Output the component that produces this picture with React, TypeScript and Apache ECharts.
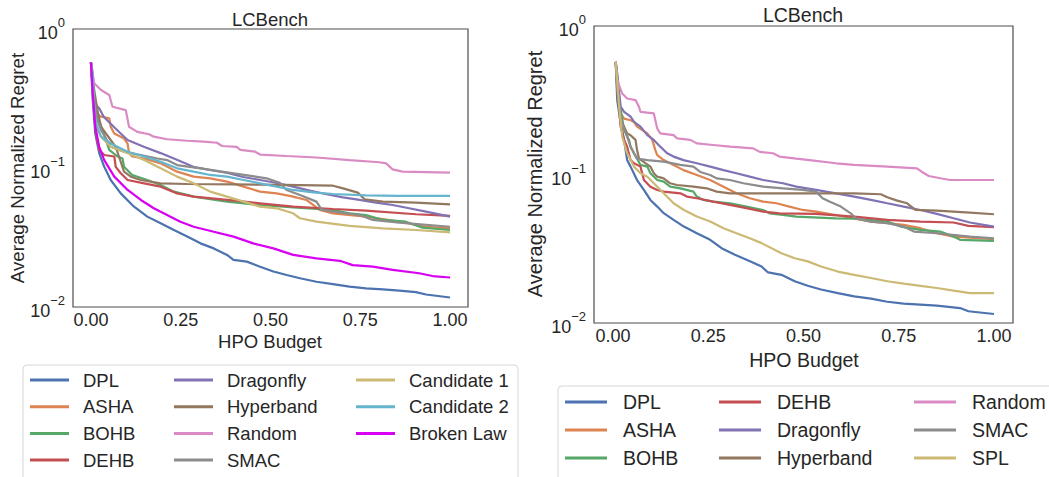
import React, { useEffect, useRef } from "react";
import * as echarts from "echarts";

// ---------- shared ----------
const TITLE = "LCBench";
const X_NAME = "HPO Budget";
const Y_NAME = "Average Normalized Regret";
const X_TICKS = [0, 0.25, 0.5, 0.75, 1.0];

const COLORS: Record<string, string> = {
  DPL: "#4c72b0",
  ASHA: "#dd8452",
  BOHB: "#55a868",
  DEHB: "#c44e52",
  Dragonfly: "#8172b3",
  Hyperband: "#937860",
  Random: "#da8bc3",
  SMAC: "#8c8c8c",
  "Candidate 1": "#ccb974",
  "Candidate 2": "#64b5cd",
  "Broken Law": "#d800f2",
  SPL: "#ccb974",
};

// ---------- left panel data [budget, regret] ----------
const leftDPL = [[0,0.575],[0.005,0.308],[0.012,0.177],[0.023,0.128],[0.037,0.102],[0.055,0.082],[0.083,0.0657],[0.12,0.0527],[0.157,0.0447],[0.194,0.04],[0.231,0.0358],[0.268,0.0321],[0.305,0.0287],[0.342,0.0264],[0.379,0.0237],[0.397,0.0218],[0.434,0.0212],[0.471,0.0195],[0.508,0.018],[0.545,0.017],[0.582,0.0161],[0.628,0.0152],[0.674,0.0146],[0.72,0.014],[0.766,0.0136],[0.813,0.0134],[0.859,0.0131],[0.905,0.0128],[0.933,0.0123],[1,0.0117]];
const leftASHA = [[0,0.575],[0.009,0.308],[0.014,0.247],[0.028,0.234],[0.051,0.228],[0.055,0.198],[0.065,0.177],[0.092,0.163],[0.102,0.15],[0.106,0.128],[0.115,0.121],[0.148,0.117],[0.194,0.108],[0.24,0.0941],[0.286,0.0867],[0.332,0.0843],[0.379,0.0798],[0.425,0.0734],[0.471,0.0676],[0.517,0.0657],[0.563,0.0622],[0.6,0.0589],[0.637,0.0499],[0.674,0.0472],[0.766,0.0447],[0.859,0.0411],[0.933,0.0378],[1,0.0368]];
const leftBOHB = [[0,0.575],[0.009,0.276],[0.032,0.188],[0.051,0.135],[0.074,0.121],[0.088,0.117],[0.092,0.102],[0.115,0.0891],[0.157,0.082],[0.194,0.0755],[0.231,0.0676],[0.286,0.0622],[0.379,0.0573],[0.471,0.0542],[0.563,0.0521],[0.674,0.0499],[0.72,0.0472],[0.766,0.0459],[0.813,0.0423],[0.877,0.0411],[0.923,0.0372],[1,0.0358]];
const leftDEHB = [[0,0.575],[0.014,0.177],[0.023,0.135],[0.037,0.124],[0.065,0.121],[0.069,0.102],[0.083,0.0916],[0.102,0.082],[0.148,0.0776],[0.194,0.0734],[0.24,0.0657],[0.286,0.0622],[0.379,0.0589],[0.471,0.0557],[0.563,0.0527],[0.674,0.0507],[0.766,0.0493],[0.905,0.0465],[1,0.0452]];
const leftDragonfly = [[0,0.575],[0.006,0.344],[0.009,0.292],[0.023,0.269],[0.036,0.233],[0.064,0.197],[0.102,0.159],[0.147,0.142],[0.194,0.128],[0.241,0.114],[0.285,0.102],[0.332,0.0968],[0.38,0.0921],[0.424,0.0862],[0.471,0.082],[0.518,0.078],[0.563,0.0734],[0.609,0.0687],[0.656,0.0647],[0.702,0.0615],[0.748,0.0589],[0.794,0.0563],[0.84,0.0542],[0.886,0.0513],[0.933,0.0485],[1,0.0447]];
const leftHyperband = [[0,0.575],[0.009,0.364],[0.018,0.261],[0.028,0.198],[0.042,0.177],[0.055,0.159],[0.069,0.142],[0.078,0.121],[0.092,0.0941],[0.111,0.0867],[0.139,0.082],[0.194,0.0776],[0.268,0.0767],[0.397,0.0762],[0.536,0.0755],[0.674,0.0746],[0.702,0.0714],[0.743,0.0665],[0.762,0.0596],[0.813,0.0573],[0.905,0.0563],[1,0.0548]];
const leftRandom = [[0,0.575],[0.009,0.407],[0.028,0.364],[0.051,0.335],[0.06,0.276],[0.097,0.261],[0.106,0.198],[0.129,0.182],[0.162,0.175],[0.175,0.168],[0.212,0.161],[0.268,0.157],[0.314,0.155],[0.351,0.152],[0.365,0.144],[0.406,0.142],[0.416,0.135],[0.457,0.131],[0.471,0.125],[0.545,0.122],[0.628,0.119],[0.72,0.114],[0.803,0.11],[0.822,0.108],[0.84,0.0978],[0.868,0.0941],[1,0.0925]];
const leftSMAC = [[0,0.575],[0.007,0.326],[0.018,0.221],[0.028,0.188],[0.055,0.142],[0.092,0.131],[0.139,0.124],[0.185,0.117],[0.212,0.114],[0.24,0.105],[0.305,0.0995],[0.397,0.0916],[0.489,0.0843],[0.526,0.0784],[0.545,0.0695],[0.582,0.0639],[0.628,0.0573],[0.642,0.0504],[0.674,0.0485],[0.748,0.0459],[0.785,0.0423],[0.859,0.0404],[1,0.0378]];
const leftCandidate1 = [[0,0.575],[0.009,0.261],[0.014,0.198],[0.028,0.168],[0.055,0.142],[0.102,0.128],[0.148,0.114],[0.194,0.0995],[0.24,0.0867],[0.286,0.0776],[0.332,0.0676],[0.379,0.0622],[0.425,0.0573],[0.471,0.0527],[0.517,0.0513],[0.563,0.0472],[0.582,0.0435],[0.628,0.0411],[0.72,0.0383],[0.813,0.0368],[0.905,0.0358],[1,0.0344]];
const leftCandidate2 = [[0,0.575],[0.005,0.48],[0.009,0.276],[0.014,0.21],[0.028,0.168],[0.055,0.15],[0.102,0.131],[0.148,0.121],[0.194,0.111],[0.24,0.0995],[0.286,0.0941],[0.332,0.0891],[0.379,0.0866],[0.425,0.082],[0.471,0.0776],[0.517,0.0734],[0.563,0.0695],[0.619,0.0668],[0.674,0.065],[0.766,0.0636],[0.859,0.063],[1,0.063]];
const leftBrokenLaw = [[0,0.575],[0.005,0.344],[0.012,0.198],[0.023,0.142],[0.037,0.114],[0.065,0.0867],[0.102,0.0695],[0.139,0.0589],[0.175,0.0513],[0.212,0.0459],[0.249,0.0411],[0.286,0.0378],[0.342,0.0348],[0.397,0.0321],[0.452,0.0287],[0.508,0.0264],[0.563,0.0237],[0.628,0.0224],[0.693,0.0215],[0.729,0.02],[0.785,0.0195],[0.84,0.0185],[0.914,0.0175],[0.951,0.0167],[1,0.0163]];

// ---------- right panel data [budget, regret] ----------
const rightDPL = [[0.007,0.573],[0.011,0.317],[0.02,0.221],[0.029,0.171],[0.037,0.125],[0.046,0.113],[0.063,0.0918],[0.081,0.0787],[0.098,0.0674],[0.116,0.0608],[0.133,0.0549],[0.159,0.0495],[0.186,0.0446],[0.22,0.0402],[0.255,0.0363],[0.285,0.0319],[0.32,0.0288],[0.355,0.0264],[0.39,0.024],[0.407,0.0219],[0.442,0.0211],[0.477,0.0191],[0.511,0.0178],[0.546,0.0168],[0.59,0.0159],[0.633,0.0151],[0.677,0.0146],[0.72,0.0139],[0.763,0.0135],[0.85,0.0131],[0.911,0.0126],[0.933,0.012],[1,0.0115]];
const rightASHA = [[0.007,0.573],[0.02,0.258],[0.029,0.238],[0.046,0.232],[0.055,0.226],[0.063,0.21],[0.09,0.189],[0.103,0.171],[0.111,0.146],[0.116,0.135],[0.133,0.125],[0.159,0.116],[0.185,0.107],[0.22,0.0993],[0.255,0.0918],[0.29,0.0828],[0.324,0.0747],[0.359,0.0692],[0.394,0.0657],[0.429,0.064],[0.463,0.0608],[0.498,0.0577],[0.533,0.0562],[0.585,0.0534],[0.633,0.0507],[0.677,0.0482],[0.72,0.047],[0.763,0.0458],[0.807,0.0435],[0.85,0.0402],[0.894,0.0382],[1,0.0367]];
const rightBOHB = [[0.007,0.573],[0.016,0.317],[0.029,0.199],[0.042,0.171],[0.046,0.154],[0.055,0.139],[0.063,0.128],[0.072,0.116],[0.09,0.113],[0.098,0.102],[0.116,0.0918],[0.133,0.0895],[0.15,0.0828],[0.177,0.0807],[0.211,0.0767],[0.22,0.071],[0.237,0.0674],[0.263,0.0657],[0.307,0.064],[0.35,0.0608],[0.394,0.0577],[0.411,0.0548],[0.446,0.0534],[0.481,0.0521],[0.585,0.0507],[0.633,0.0505],[0.72,0.0482],[0.755,0.0446],[0.807,0.0424],[0.859,0.0413],[0.894,0.0382],[0.911,0.0363],[1,0.0357]];
const rightDEHB = [[0.007,0.573],[0.02,0.21],[0.029,0.171],[0.037,0.154],[0.046,0.125],[0.055,0.119],[0.072,0.113],[0.081,0.0918],[0.098,0.0828],[0.116,0.0787],[0.133,0.0767],[0.177,0.0747],[0.194,0.071],[0.22,0.0692],[0.263,0.0657],[0.307,0.0624],[0.35,0.0593],[0.394,0.0562],[0.437,0.0548],[0.533,0.0543],[0.633,0.0521],[0.72,0.0495],[0.807,0.0482],[0.894,0.0475],[0.933,0.0451],[1,0.0442]];
const rightDragonfly = [[0.007,0.573],[0.011,0.478],[0.02,0.286],[0.029,0.264],[0.046,0.245],[0.055,0.226],[0.072,0.21],[0.09,0.184],[0.107,0.171],[0.124,0.154],[0.142,0.139],[0.159,0.132],[0.185,0.125],[0.22,0.119],[0.255,0.113],[0.29,0.107],[0.324,0.102],[0.359,0.0967],[0.394,0.0918],[0.446,0.0873],[0.481,0.0828],[0.533,0.0787],[0.585,0.0747],[0.633,0.071],[0.677,0.0674],[0.72,0.064],[0.763,0.0608],[0.807,0.0577],[0.85,0.0543],[0.894,0.0507],[0.937,0.0475],[1,0.0446]];
const rightHyperband = [[0.007,0.573],[0.011,0.37],[0.02,0.232],[0.029,0.21],[0.037,0.189],[0.046,0.184],[0.059,0.171],[0.063,0.146],[0.068,0.128],[0.098,0.113],[0.107,0.102],[0.116,0.0967],[0.133,0.0942],[0.15,0.0873],[0.168,0.085],[0.211,0.0828],[0.246,0.0807],[0.272,0.0767],[0.307,0.0747],[0.459,0.0747],[0.633,0.0747],[0.703,0.0736],[0.72,0.0703],[0.746,0.0667],[0.772,0.064],[0.794,0.0577],[0.85,0.0571],[0.937,0.0554],[1,0.054]];
const rightRandom = [[0.007,0.573],[0.011,0.431],[0.024,0.351],[0.037,0.325],[0.059,0.317],[0.068,0.286],[0.072,0.264],[0.107,0.258],[0.111,0.232],[0.116,0.204],[0.124,0.189],[0.159,0.184],[0.168,0.175],[0.203,0.171],[0.22,0.162],[0.263,0.158],[0.307,0.154],[0.368,0.15],[0.385,0.142],[0.42,0.139],[0.437,0.132],[0.481,0.128],[0.516,0.125],[0.585,0.119],[0.633,0.116],[0.72,0.113],[0.798,0.11],[0.811,0.104],[0.829,0.0977],[0.859,0.0943],[0.885,0.0918],[1,0.0918]];
const rightSMAC = [[0.007,0.573],[0.011,0.389],[0.02,0.245],[0.029,0.204],[0.037,0.18],[0.046,0.154],[0.055,0.139],[0.063,0.128],[0.09,0.125],[0.133,0.122],[0.177,0.116],[0.211,0.113],[0.229,0.104],[0.255,0.0993],[0.272,0.0942],[0.307,0.0918],[0.342,0.0873],[0.394,0.0828],[0.446,0.0807],[0.498,0.0787],[0.533,0.0767],[0.55,0.0692],[0.568,0.0657],[0.598,0.0608],[0.624,0.0548],[0.637,0.0507],[0.677,0.0482],[0.72,0.047],[0.763,0.0446],[0.79,0.0413],[0.85,0.0402],[0.937,0.0382],[1,0.0372]];
const rightSPL = [[0.007,0.573],[0.016,0.286],[0.024,0.18],[0.037,0.139],[0.055,0.113],[0.072,0.102],[0.09,0.0967],[0.107,0.0873],[0.133,0.0747],[0.159,0.064],[0.186,0.0577],[0.22,0.0521],[0.255,0.0482],[0.29,0.0435],[0.324,0.0402],[0.359,0.0372],[0.39,0.0345],[0.442,0.0295],[0.477,0.0273],[0.511,0.026],[0.546,0.024],[0.59,0.0222],[0.633,0.0211],[0.677,0.0201],[0.72,0.0191],[0.763,0.0184],[0.807,0.0178],[0.85,0.0172],[0.894,0.0165],[0.937,0.0159],[1,0.0159]];

const LEFT_SERIES: [string, number[][]][] = [
  ["DPL", leftDPL], ["ASHA", leftASHA], ["BOHB", leftBOHB], ["DEHB", leftDEHB],
  ["Dragonfly", leftDragonfly], ["Hyperband", leftHyperband], ["Random", leftRandom],
  ["SMAC", leftSMAC], ["Candidate 1", leftCandidate1], ["Candidate 2", leftCandidate2],
  ["Broken Law", leftBrokenLaw],
];
const RIGHT_SERIES: [string, number[][]][] = [
  ["DPL", rightDPL], ["ASHA", rightASHA], ["BOHB", rightBOHB], ["DEHB", rightDEHB],
  ["Dragonfly", rightDragonfly], ["Hyperband", rightHyperband], ["Random", rightRandom],
  ["SMAC", rightSMAC], ["SPL", rightSPL],
];

const LEFT_LEGEND_COLS = [
  ["DPL", "ASHA", "BOHB", "DEHB"],
  ["Dragonfly", "Hyperband", "Random", "SMAC"],
  ["Candidate 1", "Candidate 2", "Broken Law"],
];
const RIGHT_LEGEND_COLS = [
  ["DPL", "ASHA", "BOHB"],
  ["DEHB", "Dragonfly", "Hyperband"],
  ["Random", "SMAC", "SPL"],
];

const FONT = "'Liberation Sans', Arial, sans-serif";
const TXT = "#262626";

function yLabel(v: number) {
  const e = Math.round(Math.log10(v));
  const s = e === 0 ? "0" : "\u2212" + Math.abs(e);
  return `{b|10}{s|${s}}`;
}

export default function App() {
  const ref = useRef<HTMLDivElement>(null);
  useEffect(() => {
    if (!ref.current) return;
    const chart = echarts.init(ref.current, undefined, { renderer: "svg" });

    const grids = [
      { left: 73, top: 29, width: 395, height: 278 },
      { left: 594, top: 26, width: 419, height: 297 },
    ];

    const mkX = (gi: number) => ({
      type: "value",
      gridIndex: gi,
      min: -0.05,
      max: 1.05,
      axisLine: { show: false },
      axisTick: { show: false },
      splitLine: { show: false },
      axisLabel: {
        customValues: X_TICKS,
        formatter: (v: number) => v.toFixed(2),
        fontSize: 18,
        fontFamily: FONT,
        color: TXT,
        margin: 4,
        lineHeight: 18,
      },
    });
    const mkY = (gi: number) => ({
      type: "log",
      logBase: 10,
      gridIndex: gi,
      min: 0.01,
      max: 1,
      axisLine: { show: false },
      axisTick: { show: false },
      splitLine: { show: false },
      minorTick: { show: false },
      axisLabel: {
        formatter: yLabel,
        margin: 8,
        rich: {
          b: { fontSize: 18, fontFamily: FONT, color: TXT, lineHeight: 26, verticalAlign: "bottom" },
          s: { fontSize: 13, fontFamily: FONT, color: TXT, lineHeight: 13, verticalAlign: "top" },
        },
      },
    });

    const series: any[] = [];
    LEFT_SERIES.forEach(([name, data]) => {
      series.push({
        type: "line", name, data, xAxisIndex: 0, yAxisIndex: 0,
        showSymbol: false, symbol: "none",
        lineStyle: { width: 2.2, color: COLORS[name] },
        itemStyle: { color: COLORS[name] },
      });
    });
    RIGHT_SERIES.forEach(([name, data]) => {
      series.push({
        type: "line", name, data, xAxisIndex: 1, yAxisIndex: 1,
        showSymbol: false, symbol: "none",
        lineStyle: { width: 2.2, color: COLORS[name] },
        itemStyle: { color: COLORS[name] },
      });
    });

    const legends: any[] = [];
    const leftCols = [30, 174, 356];
    LEFT_LEGEND_COLS.forEach((names, i) => {
      legends.push({
        data: names, orient: "vertical", left: leftCols[i], top: 370, padding: 0,
        itemGap: 6.7, itemWidth: 39, itemHeight: 3, icon: "rect",
        textStyle: { fontSize: 18.5, fontFamily: FONT, color: TXT, lineHeight: 20, padding: [0, 0, 0, 9] },
      });
    });
    const rightCols = [565, 719, 914];
    RIGHT_LEGEND_COLS.forEach((names, i) => {
      legends.push({
        data: names, orient: "vertical", left: rightCols[i], top: 392, padding: 0,
        itemGap: 8, itemWidth: 42, itemHeight: 3, icon: "rect",
        textStyle: { fontSize: 19.5, fontFamily: FONT, color: TXT, lineHeight: 20, padding: [0, 0, 0, 11] },
      });
    });

    const txt = (x: number, y: number, text: string, size: number, rot = 0) => ({
      type: "text", x, y, rotation: rot,
      style: { text, fontSize: size, fontFamily: FONT, fill: TXT, align: "center", verticalAlign: "middle" },
      z: 10,
    });

    chart.setOption({
      animation: false,
      backgroundColor: "#ffffff",
      grid: grids.map((g) => ({ ...g, show: true, borderColor: "#4d4d4d", borderWidth: 1.2, backgroundColor: "transparent" })),
      xAxis: [mkX(0), mkX(1)],
      yAxis: [mkY(0), mkY(1)],
      legend: legends,
      series,
      graphic: [
        { type: "rect", shape: { x: 23, y: 365, width: 495, height: 200, r: 4 }, style: { fill: "#ffffff", stroke: "#d6d6d6", lineWidth: 1 }, z: -1 },
        { type: "rect", shape: { x: 558, y: 386, width: 600, height: 200, r: 4 }, style: { fill: "#ffffff", stroke: "#d6d6d6", lineWidth: 1 }, z: -1 },
        txt(270, 19, TITLE, 18.5),
        txt(803, 15, TITLE, 19.5),
        txt(270, 341, X_NAME, 18.5),
        txt(804, 360, X_NAME, 19.5),
        txt(17, 168, Y_NAME, 18.7, Math.PI / 2),
        txt(535, 174, Y_NAME, 20, Math.PI / 2),
      ],
    });
    return () => chart.dispose();
  }, []);
  return <div ref={ref} style={{ position: "fixed", left: 0, top: 0, width: 1049, height: 477 }} />;
}
